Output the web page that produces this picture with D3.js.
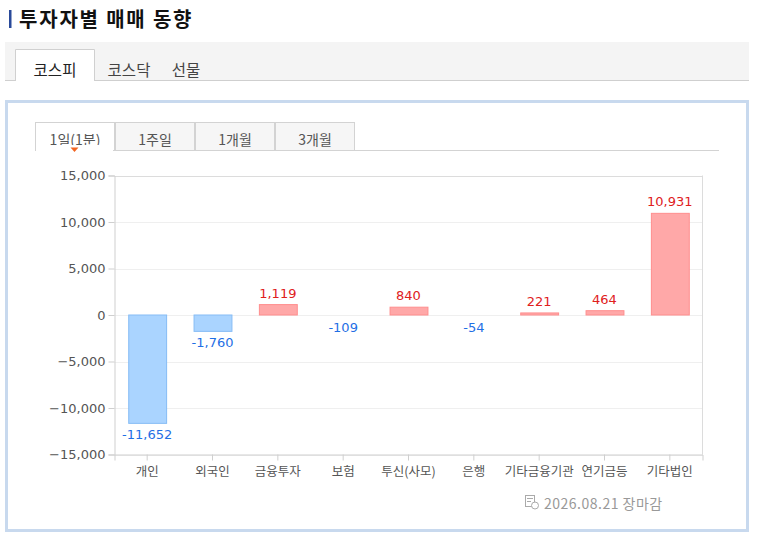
<!DOCTYPE html>
<html><head><meta charset="utf-8">
<script src="https://cdn.jsdelivr.net/npm/d3@7"></script>
<style>
html,body{margin:0;padding:0;background:#fff;}
svg{display:block;}
</style></head>
<body>
<svg id="c" width="758" height="549"></svg>
<script>
const title = "투자자별 매매 동향";
const marketTabs = ["코스피", "코스닥", "선물"];
const periodTabs = ["1일(1분)", "1주일", "1개월", "3개월"];
const categories = ["개인", "외국인", "금융투자", "보험", "투신(사모)", "은행", "기타금융기관", "연기금등", "기타법인"];
const values = [-11652, -1760, 1119, -109, 840, -54, 221, 464, 10931];
const yTicks = [15000, 10000, 5000, 0, -5000, -10000, -15000];
const dateLabel = "2026.08.21 장마감";

(function () {
const svg = d3.select("#c");
const KR = "'Noto Sans CJK KR','Noto Sans',sans-serif";
const NUM = "'DejaVu Sans','Noto Sans',sans-serif";

// Title
svg.append("rect").attr("x", 9).attr("y", 10).attr("width", 2.5).attr("height", 18).attr("fill", "#2a4a9a");
svg.append("text").attr("x", 19).attr("y", 27).text(title)
  .attr("font-family", KR).attr("font-size", 20).attr("font-weight", "bold")
  .attr("letter-spacing", 1.8).attr("fill", "#111");

// Market tabs bar
svg.append("rect").attr("x", 5).attr("y", 42).attr("width", 744).attr("height", 38).attr("fill", "#f4f4f4");
svg.append("line").attr("x1", 5).attr("x2", 749).attr("y1", 80.5).attr("y2", 80.5).attr("stroke", "#cfcfcf");
svg.append("path").attr("d", "M15.5,81 V49.5 H94.5 V81").attr("fill", "#fff").attr("stroke", "#d0d0d0");
const mtX = [55, 129, 186];
marketTabs.forEach((t, i) => {
  svg.append("text").attr("x", mtX[i]).attr("y", 76).attr("text-anchor", "middle").text(t)
    .attr("font-family", KR).attr("font-size", 15.5).attr("fill", i === 0 ? "#222" : "#444");
});

// Frame
svg.append("rect").attr("x", 6.5).attr("y", 101.5).attr("width", 741).attr("height", 429)
  .attr("fill", "#fff").attr("stroke", "#c8d9ee").attr("stroke-width", 3);

// Period tabs
const ptX = d3.scaleBand().domain(periodTabs).range([35, 355]);
periodTabs.forEach((t, i) => {
  const px = ptX(t);
  svg.append("rect").attr("x", px + 0.5).attr("y", 122.5).attr("width", ptX.bandwidth() - 1).attr("height", 28)
    .attr("fill", i === 0 ? "#fff" : "#f6f6f6").attr("stroke", "#d3d3d3");
  svg.append("text").attr("x", px + ptX.bandwidth() / 2).attr("y", 145).attr("text-anchor", "middle").text(t)
    .attr("font-family", KR).attr("font-size", 14).attr("fill", "#555");
});
svg.append("line").attr("x1", 35).attr("x2", 719).attr("y1", 150.5).attr("y2", 150.5).attr("stroke", "#d3d3d3");
svg.append("rect").attr("x", 36).attr("y", 145).attr("width", 77).attr("height", 6).attr("fill", "#fff");
svg.append("path").attr("d", "M70.5,147.5 L78.5,147.5 L74.5,152 Z").attr("fill", "#f26522");

// Chart
const pLeft = 114.5, pRight = 702.5, pTop = 175.5, pBottom = 454.5;
const x = d3.scaleBand().domain(categories).range([pLeft, pRight]).paddingInner(0.42).paddingOuter(0.21);
const xt = d3.scaleBand().domain(categories).range([pLeft, pRight]);
const y = d3.scaleLinear().domain([-15000, 15000]).range([pBottom, pTop]);

const g = svg.append("g");
g.selectAll(".grid").data(yTicks).enter().append("line")
  .attr("x1", pLeft).attr("x2", pRight)
  .attr("y1", d => Math.round(y(d)) + 0.5).attr("y2", d => Math.round(y(d)) + 0.5)
  .attr("stroke", d => (d === 15000 ? "#dcdcdc" : "#efefef"));
g.append("line").attr("x1", pRight).attr("x2", pRight).attr("y1", pTop).attr("y2", pBottom).attr("stroke", "#dcdcdc");

const yAxis = d3.axisLeft(y).tickValues(yTicks).tickSize(6).tickPadding(3).tickFormat(d3.format(","));
const ya = g.append("g").attr("transform", `translate(${pLeft},0)`).call(yAxis);
ya.select(".domain").attr("stroke", "#cfcfcf");
ya.selectAll(".tick line").attr("stroke", "#cfcfcf");
ya.selectAll(".tick text").attr("font-family", NUM).attr("font-size", 13).attr("fill", "#555");

const xAxis = d3.axisBottom(xt).tickSize(6).tickPadding(7);
const xa = g.append("g").attr("transform", `translate(0,${pBottom})`).call(xAxis);
xa.select(".domain").attr("stroke", "#cfcfcf");
xa.selectAll(".tick line").attr("stroke", "#cfcfcf");
xa.selectAll(".tick text").attr("font-family", KR).attr("font-size", 12.5).attr("fill", "#555");

const data = categories.map((c, i) => ({ c, v: values[i] }));
const barH = d => { const h = Math.abs(y(d.v) - y(0)); return h < 1.5 ? 0 : h; };
g.selectAll(".bar").data(data).enter().append("rect")
  .attr("x", d => x(d.c) + 0.5)
  .attr("width", x.bandwidth())
  .attr("y", d => Math.min(y(d.v), y(0)))
  .attr("height", barH)
  .attr("fill", d => d.v >= 0 ? "#ffa8a8" : "#aad4ff")
  .attr("stroke", d => d.v >= 0 ? "#ff8e8e" : "#86bcf5")
  .attr("stroke-opacity", d => barH(d) > 0 ? 1 : 0)
  .attr("stroke-width", 1);

g.selectAll(".lbl").data(data).enter().append("text")
  .attr("x", d => x(d.c) + x.bandwidth() / 2)
  .attr("y", d => d.v >= 0 ? y(d.v) - 7 : y(d.v) + 16)
  .attr("text-anchor", "middle")
  .attr("font-family", NUM).attr("font-size", 13)
  .attr("fill", d => d.v >= 0 ? "#e0201c" : "#1f6fe5")
  .text(d => d3.format(",")(d.v).replace("−", "-"));

const ic = svg.append("g").attr("transform", "translate(525,495)").attr("fill", "none").attr("stroke", "#aaa");
ic.append("rect").attr("x", 0.5).attr("y", 0.5).attr("width", 9).attr("height", 11);
ic.append("line").attr("x1", 2).attr("x2", 8).attr("y1", 3.5).attr("y2", 3.5);
ic.append("line").attr("x1", 2).attr("x2", 6).attr("y1", 6.5).attr("y2", 6.5);
ic.append("circle").attr("cx", 10).attr("cy", 10.5).attr("r", 3.5).attr("fill", "#fff");
svg.append("text").attr("x", 544).attr("y", 509).text(dateLabel)
  .attr("font-family", KR).attr("font-size", 14).attr("letter-spacing", 0.5).attr("fill", "#999");
})();
</script>
</body></html>
